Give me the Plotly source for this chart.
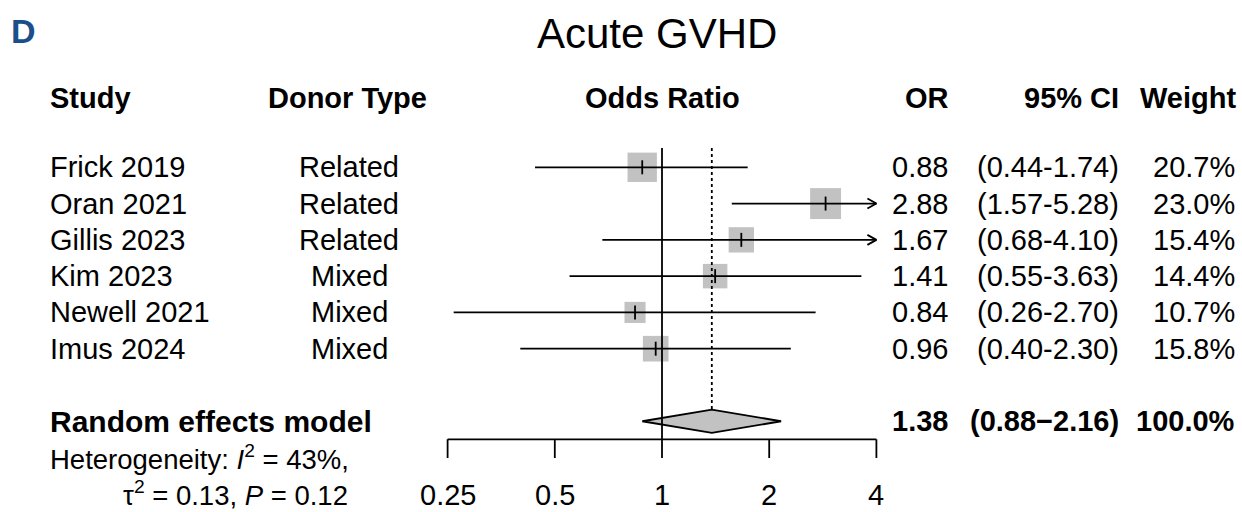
import math
import plotly.graph_objects as go

# ---------------- data ----------------
studies = ["Frick 2019", "Oran 2021", "Gillis 2023", "Kim 2023", "Newell 2021", "Imus 2024"]
donor_type = ["Related", "Related", "Related", "Mixed", "Mixed", "Mixed"]
odds_ratio = [0.88, 2.88, 1.67, 1.41, 0.84, 0.96]
ci_low = [0.44, 1.57, 0.68, 0.55, 0.26, 0.40]
ci_high = [1.74, 5.28, 4.10, 3.63, 2.70, 2.30]
weight = [20.7, 23.0, 15.4, 14.4, 10.7, 15.8]

pooled_label = "Random effects model"
pooled_or = 1.38
pooled_low = 0.88
pooled_high = 2.16
pooled_weight = 100.0

het_i2 = "43%"
het_tau2 = "0.13"
het_p = "0.12"

tick_values = [0.25, 0.5, 1, 2, 4]
tick_labels = ["0.25", "0.5", "1", "2", "4"]

# ---------------- geometry / style ----------------
W, H = 1242, 512
PX_PER_DOUBLING = 107.2
X_ONE_PX = 662.0
L2 = math.log10(2)
x_range = [(0 - X_ONE_PX) / PX_PER_DOUBLING * L2, (W - X_ONE_PX) / PX_PER_DOUBLING * L2]

ROW0_PX = 167.3
ROW_PX = 36.28
y_range = [(H - ROW0_PX) / ROW_PX, (0 - ROW0_PX) / ROW_PX]

def py(px):
    return (px - ROW0_PX) / ROW_PX

FONT = "Liberation Sans, Arial, Helvetica, sans-serif"
FS = 29
GRAY = "#c2c2c2"
LW = 1.8
xmin, xmax = tick_values[0], tick_values[-1]

n = len(studies)
rows = list(range(n))
pooled_row = n + 1
axis_y = py(439.3)
tick_end_y = py(458.0)
ref_top_y = py(148.0)
diamond_half = 11.7 / ROW_PX

fig = go.Figure()

# squares (size proportional to sqrt of weight)
fig.add_trace(go.Scatter(
    x=odds_ratio, y=rows, mode="markers",
    marker=dict(symbol="square", size=[6.45 * math.sqrt(w) for w in weight], color=GRAY,
                opacity=1, line=dict(width=0)),
    hoverinfo="skip", showlegend=False))

# confidence interval lines (clipped to axis limits) + arrows
for i in rows:
    lo = max(ci_low[i], xmin)
    hi = min(ci_high[i], xmax)
    fig.add_trace(go.Scatter(x=[lo, hi], y=[i, i], mode="lines",
                             line=dict(color="black", width=LW),
                             hoverinfo="skip", showlegend=False))
    if ci_high[i] > xmax:
        back = 2 ** (-9 / PX_PER_DOUBLING)
        dy = 5 / ROW_PX
        fig.add_trace(go.Scatter(x=[xmax * back, xmax, xmax * back], y=[i - dy, i, i + dy],
                                 mode="lines", line=dict(color="black", width=LW),
                                 hoverinfo="skip", showlegend=False))

# diamond for pooled estimate
fig.add_trace(go.Scatter(
    x=[pooled_low, pooled_or, pooled_high, pooled_or, pooled_low],
    y=[pooled_row, pooled_row - diamond_half, pooled_row, pooled_row + diamond_half, pooled_row],
    mode="lines", fill="toself", fillcolor=GRAY,
    line=dict(color="black", width=LW), hoverinfo="skip", showlegend=False))

# reference line at 1
fig.add_trace(go.Scatter(x=[1, 1], y=[ref_top_y, axis_y], mode="lines",
                         line=dict(color="black", width=LW),
                         hoverinfo="skip", showlegend=False))
# dotted line at pooled estimate
fig.add_trace(go.Scatter(x=[pooled_or, pooled_or], y=[ref_top_y, pooled_row - diamond_half],
                         mode="lines", line=dict(color="black", width=LW, dash="dot"),
                         hoverinfo="skip", showlegend=False))

# point estimate ticks
fig.add_trace(go.Scatter(
    x=odds_ratio, y=rows, mode="markers",
    marker=dict(symbol="line-ns-open", size=10, color="black",
                line=dict(color="black", width=1.8)),
    hoverinfo="skip", showlegend=False))

# bottom axis
fig.add_trace(go.Scatter(x=[xmin, xmax], y=[axis_y, axis_y], mode="lines",
                         line=dict(color="black", width=LW),
                         hoverinfo="skip", showlegend=False))
for t in tick_values:
    fig.add_trace(go.Scatter(x=[t, t], y=[axis_y, tick_end_y], mode="lines",
                             line=dict(color="black", width=LW),
                             hoverinfo="skip", showlegend=False))

# ---------------- text ----------------
annotations = []

def txt(text, xpx, y, anchor, size=FS, color="black"):
    annotations.append(dict(text=text, x=xpx / W, xref="paper", y=y, yref="y",
                            xanchor=anchor, yanchor="middle", showarrow=False,
                            font=dict(family=FONT, size=size, color=color)))

# panel letter and title
txt("<b>D</b>", 9, py(31), "left", size=34, color="#1b4f8c")
txt("Acute GVHD", 657, py(33), "center", size=42)

# headers
hy = py(98)
txt("<b>Study</b>", 48, hy, "left")
txt("<b>Donor Type</b>", 266, hy, "left")
txt("<b>Odds Ratio</b>", 662, hy, "center")
txt("<b>OR</b>", 951, hy, "right")
txt("<b>95% CI</b>", 1121, hy, "right")
txt("<b>Weight</b>", 1238, hy, "right")

for i in rows:
    txt(studies[i], 48, i, "left")
    txt(donor_type[i], 349, i, "center")
    txt(f"{odds_ratio[i]:.2f}", 950, i, "right")
    txt(f"({ci_low[i]:.2f}-{ci_high[i]:.2f})", 1121, i, "right")
    txt(f"{weight[i]:.1f}%", 1237, i, "right")

txt(f"<b>{pooled_label}</b>", 48, pooled_row, "left", size=30)
txt(f"<b>{pooled_or:.2f}</b>", 950, pooled_row, "right")
txt(f"<b>({pooled_low:.2f}\u2212{pooled_high:.2f})</b>", 1121, pooled_row, "right")
txt(f"<b>{pooled_weight:.1f}%</b>", 1237, pooled_row, "right")

txt(f"Heterogeneity: <i>I</i><sup>2</sup> = {het_i2},", 48, py(457), "left", size=27.5)
txt(f"\u03c4<sup>2</sup> = {het_tau2}, <i>P</i> = {het_p}", 350, py(493), "right", size=27.5)

for t, lab in zip(tick_values, tick_labels):
    annotations.append(dict(text=lab, x=math.log10(t), xref="x", y=py(495), yref="y",
                            xanchor="center", yanchor="middle", showarrow=False,
                            font=dict(family=FONT, size=FS, color="black")))

fig.update_layout(
    width=W, height=H,
    margin=dict(l=0, r=0, t=0, b=0),
    paper_bgcolor="white", plot_bgcolor="white",
    xaxis=dict(type="log", range=x_range, visible=False, fixedrange=True),
    yaxis=dict(range=y_range, visible=False, fixedrange=True),
    annotations=annotations,
    showlegend=False,
)

fig.write_html("out.html")
